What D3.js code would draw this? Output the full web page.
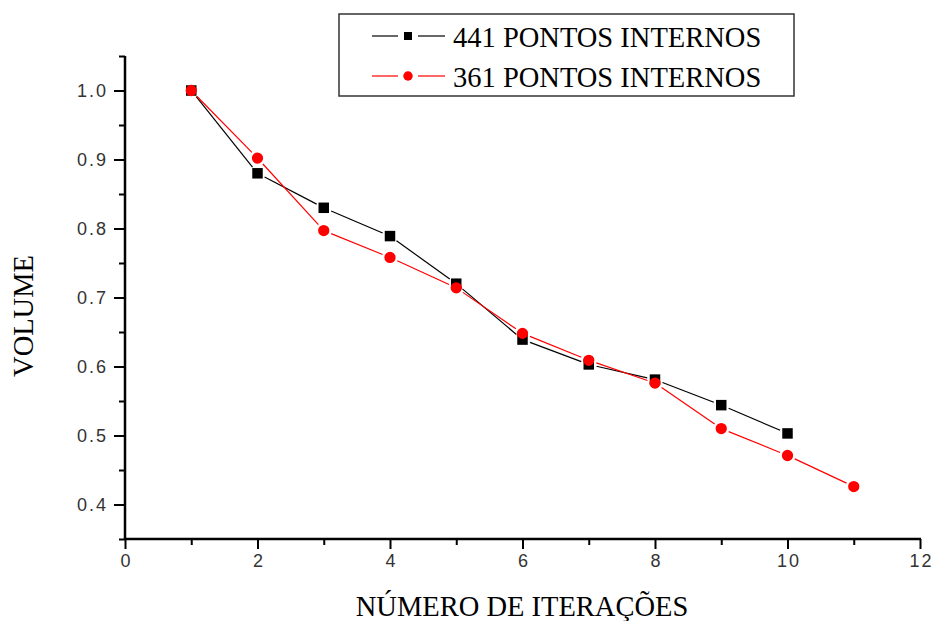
<!DOCTYPE html>
<html><head><meta charset="utf-8">
<script src="https://cdn.jsdelivr.net/npm/d3@7"></script>
<style>body{margin:0;background:#fff}svg{display:block}</style>
</head><body>
<svg id="c" width="935" height="621"></svg>
<script>
const iterations441 = [1,2,3,4,5,6,7,8,9,10];
const volume441 = [1.0,0.880,0.830,0.789,0.720,0.639,0.603,0.581,0.544,0.503];
const iterations361 = [1,2,3,4,5,6,7,8,9,10,11];
const volume361 = [1.0,0.902,0.797,0.758,0.714,0.648,0.609,0.576,0.510,0.471,0.426];
const xTicks = [0,2,4,6,8,10,12];
const yTicks = [0.4,0.5,0.6,0.7,0.8,0.9,1.0];
const seriesNames = ["441 PONTOS INTERNOS","361 PONTOS INTERNOS"];
const xTitle = "NÚMERO DE ITERAÇÕES";
const yTitle = "VOLUME";

const svg = d3.select("#c");
const x = d3.scaleLinear().domain([0,12]).range([125,920]);
const y = d3.scaleLinear().domain([0.35,1.05]).range([539,56]);

// axes
const tickFont = "'Liberation Sans', Arial, sans-serif";
const xAx = svg.append("g").attr("transform","translate(0,539)")
  .call(d3.axisBottom(x).tickValues(d3.range(0,13,1)).tickSize(6).tickSizeOuter(0).tickFormat(d => xTicks.includes(d) ? d : ""));
const yAx = svg.append("g").attr("transform","translate(125,0)")
  .call(d3.axisLeft(y).tickValues(d3.range(7,22).map(i=>i*0.05)).tickSize(6).tickSizeOuter(0)
    .tickFormat(d => yTicks.some(t=>Math.abs(t-d)<1e-9) ? d3.format(".1f")(d) : ""));
[xAx,yAx].forEach(g=>{
  g.select(".domain").attr("stroke","#000").attr("stroke-width",2.5);
  g.selectAll(".tick line").attr("stroke","#000").attr("stroke-width",2);
  g.selectAll(".tick text").attr("font-family",tickFont).attr("font-size",18).attr("fill","#333").attr("letter-spacing","2px");
});
xAx.selectAll(".tick").filter(d=>xTicks.includes(d)).select("line").attr("y2",10);
xAx.selectAll(".tick text").attr("y",15).attr("x",1).attr("dy","0.71em");
yAx.selectAll(".tick").filter(d=>yTicks.some(t=>Math.abs(t-d)<1e-9)).select("line").attr("x2",-11);
yAx.selectAll(".tick text").attr("x",-17);
xAx.select(".domain").attr("d","M125,0H921");
yAx.select(".domain").attr("d","M0,56V540");

// series
function drawSeries(xs, ys, color, shape){
  const pts = xs.map((v,i)=>[x(v), y(ys[i])]);
  const gap = 8;
  const g = svg.append("g");
  for(let i=0;i<pts.length-1;i++){
    const [x0,y0]=pts[i],[x1,y1]=pts[i+1];
    const dx=x1-x0, dy=y1-y0, L=Math.hypot(dx,dy);
    const ux=dx/L, uy=dy/L;
    g.append("line").attr("x1",x0+ux*gap).attr("y1",y0+uy*gap)
      .attr("x2",x1-ux*gap).attr("y2",y1-uy*gap)
      .attr("stroke",color).attr("stroke-width",1.2);
  }
  const sym = d3.symbol().type(shape).size(shape===d3.symbolSquare?110:100);
  g.selectAll("path.m").data(pts).join("path").attr("class","m")
    .attr("transform",d=>`translate(${d[0]},${d[1]})`).attr("d",sym).attr("fill",color);
}
drawSeries(iterations441, volume441, "#000", d3.symbolSquare);
drawSeries(iterations361, volume361, "#ff0000", d3.symbolCircle);

// legend
const lg = svg.append("g");
lg.append("rect").attr("x",339).attr("y",14).attr("width",455).attr("height",82)
  .attr("fill","#fff").attr("stroke","#333").attr("stroke-width",1.5);
const legendItems = [{name:seriesNames[0],color:"#000",shape:d3.symbolSquare,size:64,cy:36},
                     {name:seriesNames[1],color:"#ff0000",shape:d3.symbolCircle,size:70,cy:76}];
legendItems.forEach(it=>{
  lg.append("line").attr("x1",372).attr("x2",398).attr("y1",it.cy).attr("y2",it.cy).attr("stroke",it.color).attr("stroke-width",1.2);
  lg.append("line").attr("x1",418).attr("x2",445).attr("y1",it.cy).attr("y2",it.cy).attr("stroke",it.color).attr("stroke-width",1.2);
  lg.append("path").attr("transform",`translate(408,${it.cy})`).attr("d",d3.symbol().type(it.shape).size(it.size)).attr("fill",it.color);
  lg.append("text").attr("x",453).attr("y",it.cy+10.5).attr("font-family","'Liberation Serif','Times New Roman',serif")
    .attr("font-size",28.5).attr("fill","#000").text(it.name);
});

// titles
svg.append("text").attr("x",522).attr("y",616).attr("text-anchor","middle")
  .attr("font-family","'Liberation Serif','Times New Roman',serif").attr("font-size",28.5).text(xTitle);
svg.append("text").attr("transform","translate(33,316) rotate(-90)").attr("text-anchor","middle")
  .attr("font-family","'Liberation Serif','Times New Roman',serif").attr("font-size",28.5).text(yTitle);
</script>
</body></html>
